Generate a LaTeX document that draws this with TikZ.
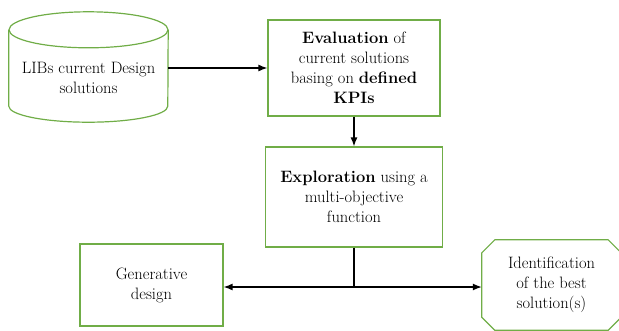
\documentclass[tikz,border=0pt]{standalone}
\usepackage{tikz}
\usetikzlibrary{arrows.meta,positioning,calc}
\definecolor{boxgreen}{RGB}{112,173,71}

\begin{document}
\begin{tikzpicture}[x=1pt,y=-1pt,
	box/.style={draw=boxgreen,line width=1.2pt,align=center,font=\fontsize{16.5}{20}\selectfont},
	plain/.style={align=center,font=\fontsize{16.5}{20}\selectfont},
	flow/.style={line width=1.3pt,-{Latex[length=9pt,width=7pt]}}]
	\useasboundingbox (0,0) rectangle (619,330);
	\clip (0,0) rectangle (619,330);
	% database
	\node[minimum width=159pt,minimum height=76pt,inner sep=0pt] (libs) at (88.5,68) {};
	\draw[boxgreen,line width=1.2pt] (libs.north west) -- (libs.south west)
		arc[start angle=180,end angle=360,x radius=79.5pt,y radius=16pt] -- (libs.north east);
	\draw[boxgreen,line width=1.2pt] (libs.north) ellipse [x radius=79.5pt,y radius=18pt];
	\node[plain] (libstext) at (88.5,78) {LIBs current Design\\solutions};
	% steps
	\node[box,minimum width=172pt,minimum height=96pt] (eval) at (354,68)
		{\textbf{Evaluation} of\\current solutions\\basing on \textbf{defined}\\\textbf{KPIs}};
	\node[box,minimum width=177pt,minimum height=100pt] (explo) at (354,197)
		{\textbf{Exploration} using a\\multi-objective\\function};
	\node[box,minimum width=143pt,minimum height=82pt] (gen) at (151.5,285)
		{Generative\\design};
	\node[plain,minimum width=139pt,minimum height=90pt] (ident) at (551.5,285)
		{Identification\\of the best\\solution(s)};
	\draw[boxgreen,line width=1.2pt] ([xshift=13pt]ident.north west) -- ([xshift=-13pt]ident.north east)
		-- ([yshift=-13pt]ident.north east) -- ([yshift=13pt]ident.south east)
		-- ([xshift=-13pt]ident.south east) -- ([xshift=13pt]ident.south west)
		-- ([yshift=13pt]ident.south west) -- ([yshift=-13pt]ident.north west) -- cycle;
	% arrows
	\coordinate (split) at (354,287);
	\draw[flow] (libs.east) -- (eval.west);
	\draw[flow] (eval.south) -- (explo.north);
	\draw[line width=1.3pt] (explo.south) -- (split);
	\draw[flow] (split) -- (split -| gen.east);
	\draw[flow] (split) -- (split -| ident.west);
\end{tikzpicture}
\end{document}
